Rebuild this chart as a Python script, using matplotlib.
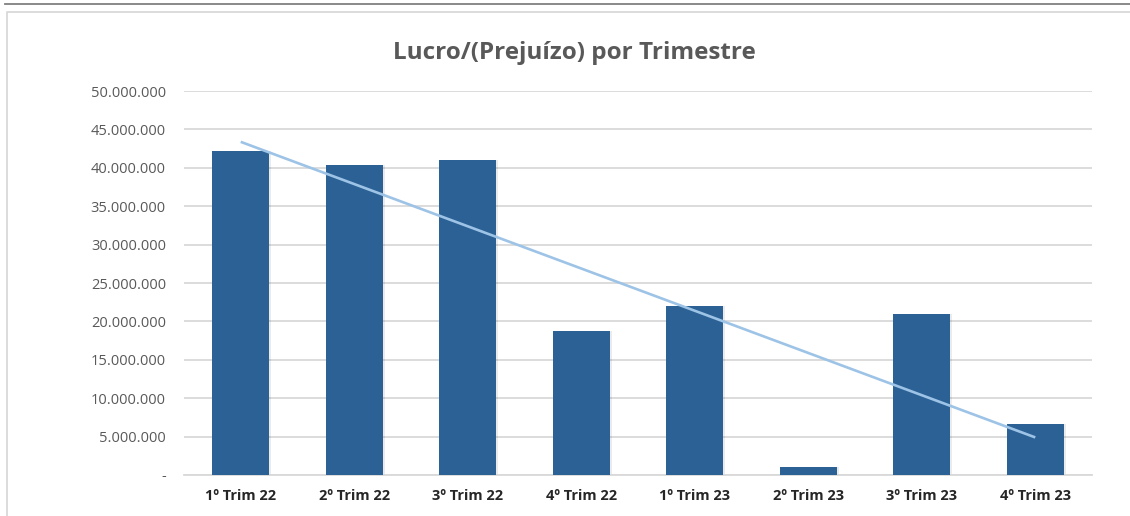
import numpy as np
import matplotlib.pyplot as plt
from matplotlib.lines import Line2D
from matplotlib.ticker import FuncFormatter, MultipleLocator

plt.rcParams["font.family"] = ["Open Sans", "DejaVu Sans"]

# data
quarters = ["1º Trim 22", "2º Trim 22", "3º Trim 22", "4º Trim 22",
            "1º Trim 23", "2º Trim 23", "3º Trim 23", "4º Trim 23"]
lucro = [42200000, 40400000, 41000000, 18700000,
         22000000, 1100000, 21000000, 6700000]

BAR = "#2B6195"
TREND = "#9DC3E6"
GRID = "#D9D9D9"

fig = plt.figure(figsize=(11.3, 5.16), dpi=100)
ax = fig.add_axes([0.1628, 0.0795, 0.8036, 0.7441])

x = np.arange(len(quarters))
ax.bar(x + 0.018, lucro, width=0.5, color="#000000", alpha=0.08, zorder=2)  # soft shadow
ax.bar(x, lucro, width=0.5, color=BAR, zorder=3)

# linear trend line (as in Excel)
slope, icpt = np.polyfit(x, lucro, 1)
ax.plot([x[0], x[-1]], [icpt + slope * x[0], icpt + slope * x[-1]],
        color=TREND, linewidth=1.9, zorder=4, solid_capstyle="butt")

ax.set_xlim(-0.5, len(quarters) - 0.5)
ax.set_ylim(0, 50000000)
ax.yaxis.set_major_locator(MultipleLocator(5000000))
ax.yaxis.set_major_formatter(FuncFormatter(
    lambda v, p: "-" if v == 0 else f"{int(v):,}".replace(",", ".")))
ax.set_xticks(x)
ax.set_xticklabels(quarters, fontsize=10.5, fontweight="bold", color="#262626")
ax.tick_params(axis="y", labelsize=10.5, labelcolor="#595959", length=0, pad=13)
ax.tick_params(axis="x", length=0, pad=10)

ax.grid(axis="y", color=GRID, linewidth=1.3, zorder=0)
ax.set_axisbelow(True)
for s in ["top", "right", "left"]:
    ax.spines[s].set_visible(False)
ax.spines["bottom"].set_color(GRID)
ax.spines["bottom"].set_linewidth(1.3)

fig.text(0.508, 0.897, "Lucro/(Prejuízo) por Trimestre", ha="center", va="center",
         fontsize=17.5, fontweight="bold", color="#595959")

# page rule and chart frame
fig.add_artist(Line2D([5 / 1130, 1], [1 - 4 / 516, 1 - 4 / 516],
                      transform=fig.transFigure, color="#808080", linewidth=1.3))
fig.add_artist(Line2D([7 / 1130, 7 / 1130, 1], [0, 1 - 12 / 516, 1 - 12 / 516],
                      transform=fig.transFigure, color=GRID, linewidth=1.3))

fig.savefig("out.png", dpi=100)
